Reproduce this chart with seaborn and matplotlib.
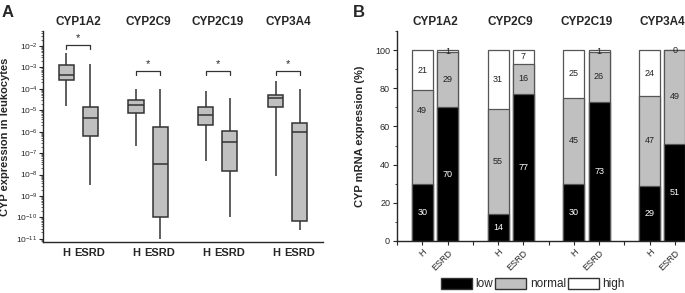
import numpy as np
import pandas as pd
import matplotlib
matplotlib.use("Agg")
import matplotlib.pyplot as plt
import matplotlib.ticker as mticker
from matplotlib.patches import Patch
import seaborn as sns

# ---- data ----
genes = ['CYP1A2', 'CYP2C9', 'CYP2C19', 'CYP3A4']
groups = ['H', 'ESRD']

# five-number summaries (min, q1, median, q3, max) of CYP expression
h_stats = [
    [1.6e-5, 2.6e-4, 4.5e-4, 1.3e-3, 4.7e-3],
    [2.2e-7, 7.5e-6, 1.8e-5, 3.0e-5, 1.0e-4],
    [4.4e-8, 2.1e-6, 6.0e-6, 1.4e-5, 8.0e-5],
    [8.7e-9, 1.4e-5, 3.7e-5, 5.2e-5, 2.3e-4],
]
esrd_stats = [
    [3.3e-9, 6.3e-7, 4.4e-6, 1.4e-5, 1.45e-3],
    [1.0e-11, 1.0e-10, 3.0e-8, 1.7e-6, 1.0e-4],
    [1.0e-10, 1.5e-8, 3.3e-7, 1.1e-6, 3.7e-5],
    [2.6e-11, 6.9e-11, 9.8e-7, 2.6e-6, 1.0e-4],
]
sig_y = [10**-1.95, 10**-3.17, 10**-3.17, 10**-3.17]

# percent of patients by mRNA expression class
low_h = [30, 14, 30, 29]
normal_h = [49, 55, 45, 47]
high_h = [21, 31, 25, 24]
low_esrd = [70, 77, 73, 51]
normal_esrd = [29, 16, 26, 49]
high_esrd = [1, 7, 1, 0]

BOX_GRAY = '#c0c0c0'
LINE = '#333333'

sns.set_style("ticks")
plt.rcParams['font.family'] = ['Liberation Sans', 'DejaVu Sans']

fig = plt.figure(figsize=(6.85, 2.93), dpi=100)
axA = fig.add_axes([0.0628, 0.174, 0.4087, 0.720])
axB = fig.add_axes([0.5796, 0.1775, 0.4204, 0.7165])

# ---------- panel A: box plots ----------
rows = []
for g, hs, es in zip(genes, h_stats, esrd_stats):
    rows += [{'gene': g, 'group': 'H', 'value': v} for v in hs]
    rows += [{'gene': g, 'group': 'ESRD', 'value': v} for v in es]
dfA = pd.DataFrame(rows)

line_kw = dict(color=LINE, linewidth=1.1)
sns.boxplot(data=dfA, x='gene', y='value', hue='group', order=genes,
            hue_order=groups, log_scale=True, whis=(0, 100), width=0.686,
            gap=0.375, showcaps=False, showfliers=False, legend=False,
            palette=[BOX_GRAY, BOX_GRAY], linecolor=LINE, linewidth=1.1,
            whiskerprops=line_kw, medianprops=line_kw, ax=axA)

axA.set_ylim(10**-11.15, 10**-1.3)
axA.set_xlim(-0.5, 3.5)
off = 0.686 / 4
axA.set_xticks([i + s * off for i in range(len(genes)) for s in (-1, 1)])
axA.set_xticklabels(groups * len(genes), fontsize=8, fontweight='bold')
axA.tick_params(axis='x', length=0, pad=4)
axA.yaxis.set_major_locator(mticker.LogLocator(base=10, numticks=20))
axA.yaxis.set_minor_locator(mticker.LogLocator(base=10, subs=np.arange(2, 10), numticks=20))
axA.yaxis.set_minor_formatter(mticker.NullFormatter())
axA.tick_params(axis='y', which='major', labelsize=6, length=3, width=0.8, pad=1)
axA.tick_params(axis='y', which='minor', length=1.5, width=0.5)
axA.set_xlabel('')
axA.set_ylabel('CYP expression in leukocytes', fontsize=8, fontweight='bold')
axA.yaxis.set_label_coords(-0.118, 0.5)
sns.despine(ax=axA)
for sp in axA.spines.values():
    sp.set_linewidth(1.0)

for i, (g, y) in enumerate(zip(genes, sig_y)):
    x0, x1 = i - off, i + off
    axA.plot([x0, x0, x1, x1], [y / 1.5, y, y, y / 1.5], color=LINE, lw=0.9)
    axA.text(i, y * 1.2, '*', ha='center', va='bottom', fontsize=8)
    axA.text(i, 1.043, g, transform=axA.get_xaxis_transform(), ha='center',
             va='center', fontsize=8.5, fontweight='bold')

# ---------- panel B: stacked bars ----------
order = []
labels = []
for g in genes:
    order.append(' ' * (len(order) + 1))
    labels.append('')
    for grp in groups:
        order.append(f'{g} {grp}')
        labels.append(grp)

recs = []
for i, g in enumerate(genes):
    recs.append({'bar': f'{g} H', 'low': low_h[i], 'normal': normal_h[i], 'high': high_h[i]})
    recs.append({'bar': f'{g} ESRD', 'low': low_esrd[i], 'normal': normal_esrd[i], 'high': high_esrd[i]})
dfB = pd.DataFrame(recs)
dfB['top_normal'] = dfB['low'] + dfB['normal']
dfB['top_high'] = dfB['top_normal'] + dfB['high']

bar_kw = dict(order=order, width=0.83, edgecolor='#555555', linewidth=0.9,
              errorbar=None, ax=axB)
sns.barplot(data=dfB, x='bar', y='top_high', color='white', **bar_kw)
sns.barplot(data=dfB, x='bar', y='top_normal', color=BOX_GRAY, saturation=1, **bar_kw)
sns.barplot(data=dfB, x='bar', y='low', color='black', saturation=1, **bar_kw)

for _, r in dfB.iterrows():
    x = order.index(r['bar'])
    segs = [('low', 0, r['low'], 'white'),
            ('normal', r['low'], r['top_normal'], '#222222'),
            ('high', r['top_normal'], r['top_high'], '#222222')]
    for name, a, b, c in segs:
        val = b - a
        yc = (a + b) / 2
        if r['bar'] == 'CYP1A2 H' and name == 'normal':
            yc += 14
        axB.text(x, yc, f'{val:.0f}', ha='center', va='center',
                 fontsize=6.5, color=c)

axB.set_xlim(0, 11.4)
axB.set_ylim(0, 110)
axB.set_xticks(range(len(order)))
axB.set_xticklabels(labels, rotation=45, ha='right', rotation_mode='anchor',
                    fontsize=6.5)
axB.set_yticks([0, 20, 40, 60, 80, 100])
axB.yaxis.set_minor_locator(mticker.FixedLocator([10, 30, 50, 70, 90, 110]))
axB.tick_params(axis='both', which='major', labelsize=6.5, length=3, width=0.8, pad=2)
axB.tick_params(axis='y', which='minor', length=1.5, width=0.6)
axB.set_xlabel('')
axB.set_ylabel('CYP mRNA expression (%)', fontsize=8, fontweight='bold')
axB.yaxis.set_label_coords(-0.11, 0.5)
sns.despine(ax=axB)
for sp in axB.spines.values():
    sp.set_linewidth(1.0)

for i, g in enumerate(genes):
    axB.text(3 * i + 1.5, 1.043, g, transform=axB.get_xaxis_transform(),
             ha='center', va='center', fontsize=8.5, fontweight='bold')

handles = [Patch(facecolor='black', edgecolor='#333333', label='low'),
           Patch(facecolor=BOX_GRAY, edgecolor='#333333', label='normal'),
           Patch(facecolor='white', edgecolor='#333333', label='high')]
fig.legend(handles=handles, loc='center', bbox_to_anchor=(0.778, 0.03),
           ncol=3, frameon=False, fontsize=8.5, handlelength=2.6,
           handleheight=1.0, handletextpad=0.3, columnspacing=0.2)

fig.text(0.003, 0.959, 'A', fontsize=12, fontweight='bold', va='center')
fig.text(0.515, 0.959, 'B', fontsize=12, fontweight='bold', va='center')

fig.savefig('out.png', dpi=100)
